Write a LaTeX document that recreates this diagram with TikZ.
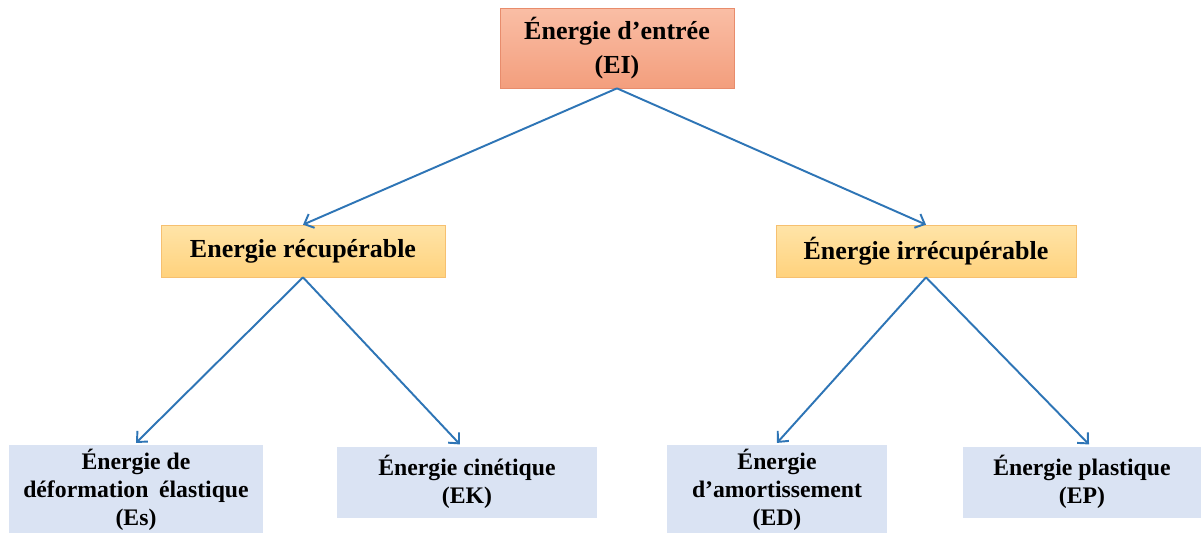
\documentclass[tikz,border=0pt]{standalone}
\usepackage{fontspec}
\setmainfont{Liberation Serif}
\usepackage{xcolor}
\usetikzlibrary{arrows.meta}
\definecolor{nrj_salmon_top}{RGB}{250,190,165}
\definecolor{nrj_salmon_bot}{RGB}{243,158,125}
\definecolor{nrj_salmon_edge}{RGB}{232,140,108}
\definecolor{nrj_gold_top}{RGB}{255,228,168}
\definecolor{nrj_gold_bot}{RGB}{255,210,125}
\definecolor{nrj_gold_edge}{RGB}{246,192,112}
\definecolor{nrj_blue}{RGB}{218,227,243}
\definecolor{nrj_arrow}{RGB}{46,117,182}

\begin{document}
\begin{tikzpicture}[x=0.02cm, y=-0.02cm,
    inbox/.style={draw=nrj_salmon_edge, top color=nrj_salmon_top, bottom color=nrj_salmon_bot,
      minimum width=4.68cm, minimum height=1.6cm, align=center, inner sep=0pt,
      font=\fontsize{14.8}{19.5}\selectfont\bfseries},
    splitbox/.style={draw=nrj_gold_edge, top color=nrj_gold_top, bottom color=nrj_gold_bot,
      minimum height=1.04cm, align=center, inner sep=0pt,
      font=\fontsize{14.8}{18}\selectfont\bfseries},
    leafbox/.style={fill=nrj_blue, align=center, inner sep=0pt,
      font=\fontsize{13.5}{16}\selectfont\bfseries},
    flow/.style={-{Straight Barb[length=1.6mm, width=3mm]}, draw=nrj_arrow, line width=1.1pt}
  ]
    % Page frame (pixel-like units)
    \clip (0,0) rectangle (1201,532);
    \fill[white] (0,0) rectangle (1201,532);

    % Input energy
    \node[inbox] (EI) at (617,48) {Énergie d’entrée\\(EI)};

    % Second level
    \node[splitbox, minimum width=5.68cm] (ER) at (303,251) {Energie récupérable};
    \node[splitbox, minimum width=6cm] (EIR) at (926,251) {Énergie irrécupérable};

    % Leaves (the two tall ones run past the lower edge)
    \node[leafbox, minimum width=5.1cm, minimum height=1.8cm] (Es) at (136,490)
      {Énergie de\\déformation\hspace{0.45em}élastique\\(Es)};
    \node[leafbox, minimum width=5.2cm, minimum height=1.42cm] (EK) at (467,482)
      {Énergie cinétique\\(EK)};
    \node[leafbox, minimum width=4.42cm, minimum height=1.8cm] (ED) at (777,490)
      {Énergie\\d’amortissement\\(ED)};
    \node[leafbox, minimum width=4.78cm, minimum height=1.42cm] (EP) at (1082,482)
      {Énergie plastique\\(EP)};
    \fill[nrj_blue] (Es.south west) rectangle ([yshift=-0.3cm]Es.south east);
    \fill[nrj_blue] (ED.south west) rectangle ([yshift=-0.3cm]ED.south east);

    % Connectors
    \draw[flow] (EI.south) -- (ER.north);
    \draw[flow] (EI.south) -- (EIR.north);
    \draw[flow] (ER.south) -- ([yshift=1pt]Es.north);
    \draw[flow] (ER.south) -- ([xshift=-4pt,yshift=1pt]EK.north);
    \draw[flow] (EIR.south) -- ([yshift=1pt]ED.north);
    \draw[flow] (EIR.south) -- ([xshift=4pt,yshift=1pt]EP.north);
\end{tikzpicture}
\end{document}
